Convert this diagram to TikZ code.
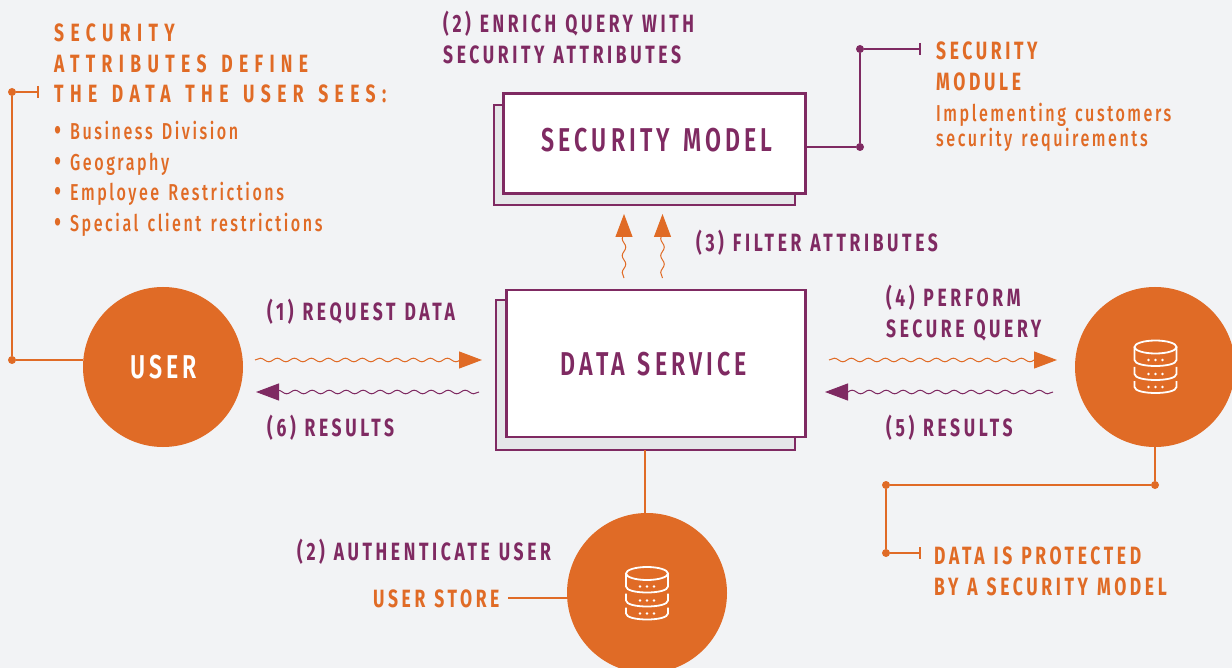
\documentclass[tikz,border=0pt]{standalone}
\usepackage{fontspec}
\usetikzlibrary{arrows.meta,decorations.pathmorphing}
\newfontfamily\wideheadfont[FakeStretch=0.70,LetterSpace=25.5,WordSpace=1.4,UprightFont=* Bold]{Fira Sans}
\newfontfamily\headfont[FakeStretch=0.70,LetterSpace=14.5,WordSpace=1.15,UprightFont=* Bold]{Fira Sans}
\newfontfamily\boxfont[FakeStretch=0.70,LetterSpace=12.5,WordSpace=1.3,UprightFont=* SemiBold]{Fira Sans}
\newfontfamily\bodyfont[FakeStretch=0.70,LetterSpace=11,WordSpace=1.4,UprightFont=* Medium]{Fira Sans}
\newcommand{\listdot}{\makebox[16pt][l]{\raisebox{-1pt}{\fontsize{30}{30}\selectfont•}}}
\definecolor{brandorange}{HTML}{E06B26}
\definecolor{brandpurple}{HTML}{7F2A62}
\definecolor{pagegrey}{HTML}{F2F3F5}
\definecolor{shadowgrey}{HTML}{E5E7E9}
\tikzset{
  orangelabel/.style={text=brandorange,font=\headfont\fontsize{25}{31}\selectfont,anchor=base west,align=left,inner sep=0},
  wideheadlabel/.style={text=brandorange,font=\wideheadfont\fontsize{25}{30.5}\selectfont,anchor=base west,align=left,inner sep=0},
  purplelabel/.style={text=brandpurple,font=\headfont\fontsize{25}{31}\selectfont,anchor=base west,align=left,inner sep=0},
  boxlabel/.style={text=brandpurple,font=\boxfont\fontsize{33}{36}\selectfont,anchor=base,inner sep=0},
  listlabel/.style={text=brandorange,font=\bodyfont\fontsize{23}{30.7}\selectfont,anchor=base west,align=left,inner sep=0},
  frontbox/.style={draw=brandpurple,line width=2.1pt,fill=white},
  backbox/.style={draw=brandpurple,line width=2.1pt,fill=shadowgrey},
  orangeline/.style={draw=brandorange,line width=2.8pt},
  purpleline/.style={draw=brandpurple,line width=2.6pt},
  blob/.style={circle,fill=brandorange,minimum size=160pt,inner sep=0},
  enddot/.style={circle,fill=#1,minimum size=8pt,inner sep=0},
  wavy/.style={draw=#1,line width=1pt,decorate,decoration={snake,amplitude=1.8pt,segment length=17pt,post length=4pt}},
  headtip/.style={-{Triangle[length=23pt,width=17pt,fill=#1]}},
  pics/dbicon/.style={code={
    \draw[white,line width=1.8pt] (0,-20) ellipse (21pt and 6.5pt);
    \draw[white,line width=1.8pt] (-21,-20) -- (-21,-7) .. controls (-21,1) and (21,1) .. (21,-7) -- (21,-20);
    \draw[white,line width=1.8pt] (-21,0) -- (-21,7) .. controls (-21,15) and (21,15) .. (21,7) -- (21,0);
    \draw[white,line width=1.8pt] (-21,14) -- (-21,20) .. controls (-21,28) and (21,28) .. (21,20) -- (21,14);
    \foreach \dy in {-7,7,20}{
      \fill[white] (-7,\dy) circle (1.4pt) (0,\dy) circle (1.4pt) (7,\dy) circle (1.4pt);
    }
  }}
}
\begin{document}
\begin{tikzpicture}[x=1pt,y=-1pt]
  \useasboundingbox (0,0) rectangle (1232,668);
  \fill[pagegrey] (0,0) rectangle (1232,668);

  % boxes
  \draw[backbox] (494,105) rectangle (795,205);
  \node[frontbox,minimum width=302pt,minimum height=100pt] (securitymodel) at (654.5,143.5) {};
  \draw[backbox] (496,300) rectangle (795,450);
  \node[frontbox,minimum width=299pt,minimum height=147pt] (dataservice) at (656,363.5) {};
  \node[boxlabel] (securitytext) at (657,152) {SECURITY MODEL};
  \node[boxlabel] (servicetext) at (654,376) {DATA SERVICE};

  % circles
  \node[blob] (user) at (163,367) {};
  \node[blob] (dbright) at (1155,367) {};
  \node[blob] (userstore) at (647,593) {};
  \node[text=white,font=\boxfont\fontsize{33}{36}\selectfont,anchor=base,inner sep=0] (usertext) at (163.5,378) {USER};
  \pic at (1155.5,367) {dbicon};
  \pic at (647,593.5) {dbicon};

  % left bracket
  \node[wideheadlabel] (attrtext) at (54,103) {SECURITY\\ATTRIBUTES DEFINE\\THE DATA THE USER SEES:};
  \node[listlabel] (attrlist) at (54,231.5) {\listdot Business Division\\\listdot Geography\\\listdot Employee Restrictions\\\listdot Special client restrictions};
  \node[enddot=brandorange] (userdotlow) at (12,360) {};
  \node[enddot=brandorange] (userdothigh) at (12,92) {};
  \coordinate (userbar) at (38,92);
  \draw[orangeline] (user.west |- userdotlow) -- (userdotlow) -- (userdothigh) -- (userbar);
  \draw[orangeline,line width=1.8pt] (38,86) -- (38,98);

  % top right bracket
  \node[enddot=brandpurple] (moddotlow) at (860,147) {};
  \node[enddot=brandpurple] (moddothigh) at (860,49) {};
  \coordinate (modbar) at (920,49);
  \draw[purpleline] (securitymodel.east |- moddotlow) -- (moddotlow) -- (moddothigh) -- (modbar);
  \draw[purpleline,line width=1.8pt] (920,43) -- (920,55);
  \node[orangelabel] (modtext) at (936,91) {SECURITY\\MODULE};
  \node[listlabel,font=\bodyfont\fontsize{23}{25}\selectfont] (modbody) at (936,147) {Implementing customers\\security requirements};

  % bottom right bracket
  \node[enddot=brandorange] (dbdot) at (1155,485) {};
  \node[enddot=brandorange] (protdothigh) at (886,485) {};
  \node[enddot=brandorange] (protdotlow) at (886,553) {};
  \coordinate (protbar) at (920,553);
  \draw[orangeline] (dbright.south) -- (dbdot) -- (protdothigh) -- (protdotlow) -- (protbar);
  \draw[orangeline,line width=1.8pt] (920,547) -- (920,559);
  \node[orangelabel] (prottext) at (934,595) {DATA IS PROTECTED\\BY A SECURITY MODEL};

  % bottom
  \coordinate (servicefoot) at (645,450);
  \draw[orangeline] (servicefoot) -- (servicefoot |- userstore.north);
  \node[orangelabel] (storetext) at (373,607) {USER STORE};
  \coordinate (storefree) at (508,598);
  \draw[orangeline] (storefree) -- (userstore.west |- storefree);
  \node[purplelabel] (authtext) at (297,560) {(2) AUTHENTICATE USER};

  % wavy arrows
  \coordinate (reqa) at (255,360);   \coordinate (reqb) at (482,360);
  \coordinate (resa) at (479,392);   \coordinate (resb) at (256,392);
  \coordinate (qrya) at (829,360);   \coordinate (qryb) at (1057,360);
  \coordinate (rsta) at (1053,392);  \coordinate (rstb) at (825,392);
  \coordinate (fila) at (624,278);   \coordinate (filb) at (624,214);
  \coordinate (filc) at (662.5,278); \coordinate (fild) at (662.5,214);
  \draw[wavy=brandorange,headtip=brandorange] (reqa) -- (reqb);
  \draw[wavy=brandpurple,headtip=brandpurple] (resa) -- (resb);
  \draw[wavy=brandorange,headtip=brandorange] (qrya) -- (qryb);
  \draw[wavy=brandpurple,headtip=brandpurple] (rsta) -- (rstb);
  \draw[wavy=brandorange,headtip=brandorange] (fila) -- (filb);
  \draw[wavy=brandorange,headtip=brandorange] (filc) -- (fild);

  % labels
  \node[purplelabel] (enrichtext) at (443,63.5) {(2) ENRICH QUERY WITH\\SECURITY ATTRIBUTES};
  \node[purplelabel] (filtertext) at (696,252) {(3) FILTER ATTRIBUTES};
  \node[purplelabel] (requesttext) at (267,321) {(1) REQUEST DATA};
  \node[purplelabel] (results6text) at (267,436) {(6) RESULTS};
  \node[purplelabel] (performtext) at (886,337.5) {(4) PERFORM\\SECURE QUERY};
  \node[purplelabel] (results5text) at (886,436) {(5) RESULTS};
\end{tikzpicture}
\end{document}
